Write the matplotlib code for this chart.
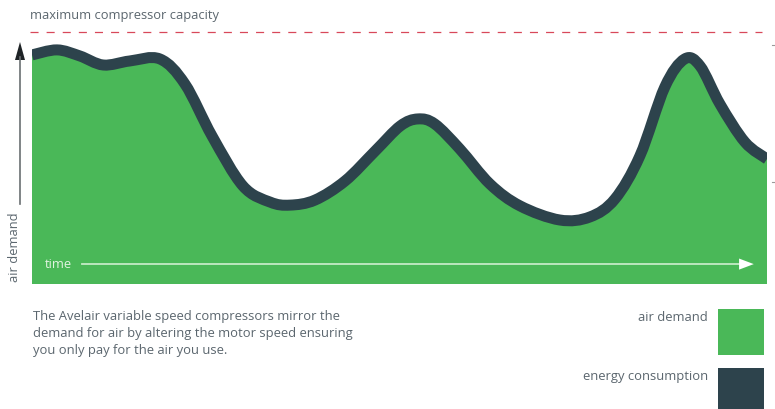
import matplotlib
matplotlib.use("Agg")
import matplotlib.pyplot as plt
from matplotlib.patches import Rectangle, Polygon, PathPatch
from matplotlib.path import Path

plt.rcParams['font.family'] = ['Open Sans', 'DejaVu Sans']
plt.rcParams['lines.scale_dashes'] = False

# time across the window (% of window) and air demand (% of max capacity)
time = [0, 3.4, 6.5, 9.7, 13.3, 17.4, 20.8, 24.5, 28.7, 32.4, 35.1,
        38.5, 42.6, 46.7, 50.1, 52.5, 54.8, 58.2, 62.3, 66.4, 71.8, 75.9,
        79.3, 82.7, 86.1, 88.8, 90.9, 93.6, 97.0, 100]
demand = [90.9, 92.9, 90.5, 86.9, 88.5, 89.3, 79.4, 58.7, 38.9, 32.5,
          31.3, 33.3, 40.9, 52.8, 62.7, 65.5, 63.5, 53.6, 39.7, 31.0, 25.4,
          26.6, 33.7, 50.8, 78.2, 89.3, 86.5, 71.4, 56.3, 49.6]
capacity = 100

description = ["The Avelair variable speed compressors mirror the",
               "demand for air by altering the motor speed ensuring",
               "you only pay for the air you use."]
legend_labels = ["air demand", "energy consumption"]

green = '#4ab858'
dark = '#2d434c'
text_col = '#5b666e'


def smooth_path(xs, ys):
    # draw a smooth curve through the read points (catmull-rom as bezier)
    pts = list(zip(xs, ys))
    verts = [pts[0]]
    codes = [Path.MOVETO]
    n = len(pts)
    for i in range(n - 1):
        p0 = pts[max(i - 1, 0)]
        p1 = pts[i]
        p2 = pts[i + 1]
        p3 = pts[min(i + 2, n - 1)]
        c1 = (p1[0] + (p2[0] - p0[0]) / 6, p1[1] + (p2[1] - p0[1]) / 6)
        c2 = (p2[0] - (p3[0] - p1[0]) / 6, p2[1] - (p3[1] - p1[1]) / 6)
        verts += [c1, c2, p2]
        codes += [Path.CURVE4] * 3
    return verts, codes


W, H = 775, 410
fig = plt.figure(figsize=(W / 100, H / 100), dpi=100)

# overlay in pixel coordinates for labels and decorations
ov = fig.add_axes([0, 0, 1, 1])
ov.set_xlim(0, W)
ov.set_ylim(H, 0)
ov.axis('off')

# chart area
ax = fig.add_axes([32 / W, (H - 285) / H, 735 / W, 252 / H])
ax.set_xlim(0, 100)
ax.set_ylim(0, 100)
ax.axis('off')

verts, codes = smooth_path(time, demand)
fill_verts = verts + [(time[-1], 0), (time[0], 0), verts[0]]
fill_codes = codes + [Path.LINETO, Path.LINETO, Path.CLOSEPOLY]
ax.add_patch(PathPatch(Path(fill_verts, fill_codes), facecolor=green,
                       edgecolor='none', zorder=1))
ax.add_patch(PathPatch(Path(verts, codes), facecolor='none', edgecolor=dark,
                       lw=11 * 0.72, capstyle='butt', joinstyle='round', zorder=2))

# maximum capacity line
ax.hlines(capacity, -0.3, 99.3, colors='#d8485a', lw=0.9,
          linestyles=(0, (5.8, 5.8)), clip_on=False, zorder=3)

# time arrow inside the chart
ax.plot([0.068, 0.965], [0.079, 0.079], transform=ax.transAxes,
        color='#c4eac6', lw=1.3, zorder=3)
ax.add_patch(Polygon([[0.962, 0.079 + 0.022], [0.982, 0.079], [0.962, 0.079 - 0.022]],
                     closed=True, transform=ax.transAxes, color='white', lw=0, zorder=4))
ax.text(0.018, 0.081, "time", transform=ax.transAxes, color='#e2f4e2',
        fontsize=9.3, ha='left', va='center', zorder=4)

# y arrow and label
ov.plot([20, 20], [58, 205], color='#6a6f72', lw=1.2)
ov.add_patch(Polygon([[15, 61], [20, 43], [25, 61]], closed=True, color='#1e2326', lw=0))
ov.text(14, 247, "air demand", rotation=90, color=text_col, fontsize=9.3,
        ha='center', va='center')

# small edge marks on the right
ov.plot([772, 775], [46, 46], color='#9a9a9a', lw=0.8)
ov.plot([772, 775], [183, 183], color='#9a9a9a', lw=0.8)

ov.text(30, 16, "maximum compressor capacity", color=text_col, fontsize=9.3,
        ha='left', va='center')

for i, line in enumerate(description):
    ov.text(33, 317 + i * 17, line, color=text_col, fontsize=9.4,
            ha='left', va='center')

# legend
for label, col, y0 in zip(legend_labels, [green, dark], [310, 369]):
    ov.add_patch(Rectangle((718, y0), 46, 46, color=col, lw=0))
    ov.text(708, y0 + 8, label, color=text_col, fontsize=9.4,
            ha='right', va='center')

fig.savefig("out.png", dpi=100)
